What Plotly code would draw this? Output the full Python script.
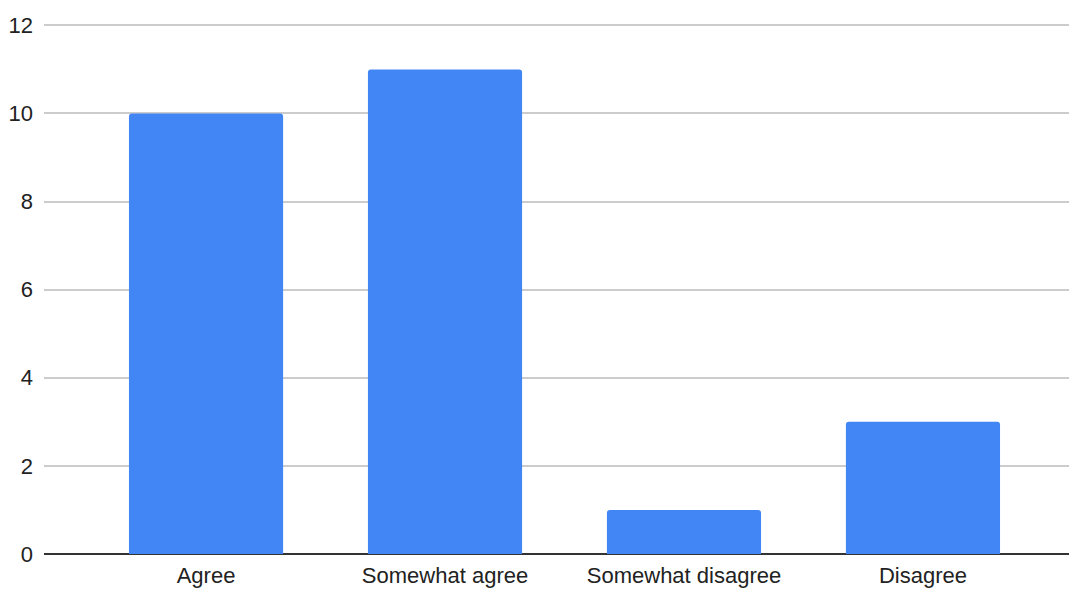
import plotly.graph_objects as go

categories = ["Agree", "Somewhat agree", "Somewhat disagree", "Disagree"]
counts = [10, 11, 1, 3]
y_ticks = [0, 2, 4, 6, 8, 10, 12]

fig = go.Figure(
    go.Bar(
        x=categories,
        y=counts,
        marker=dict(color="#4285F4", line=dict(width=0)),
        width=0.645,
        hoverinfo="x+y",
    )
)

fig.update_layout(
    width=1077,
    height=592,
    margin=dict(l=36, r=0, t=16, b=46, autoexpand=False),
    paper_bgcolor="white",
    plot_bgcolor="white",
    showlegend=False,
    barcornerradius=3,
    font=dict(family="Liberation Sans, Arial, sans-serif", size=22, color="#222222"),
    xaxis=dict(
        range=[-0.678, 3.678],
        showgrid=False,
        showline=False,
        ticks="",
        tickfont=dict(size=22, color="#222222"),
        ticklabelstandoff=6,
        zeroline=False,
    ),
    yaxis=dict(
        range=[0, 12.03],
        tickvals=y_ticks,
        showgrid=True,
        gridcolor="#cccccc",
        gridwidth=1.5,
        zeroline=True,
        zerolinecolor="#333333",
        zerolinewidth=2,
        showline=False,
        ticks="",
        ticklabelstandoff=10,
        tickfont=dict(size=22, color="#222222"),
        fixedrange=True,
    ),
)

fig.write_html("out.html")
